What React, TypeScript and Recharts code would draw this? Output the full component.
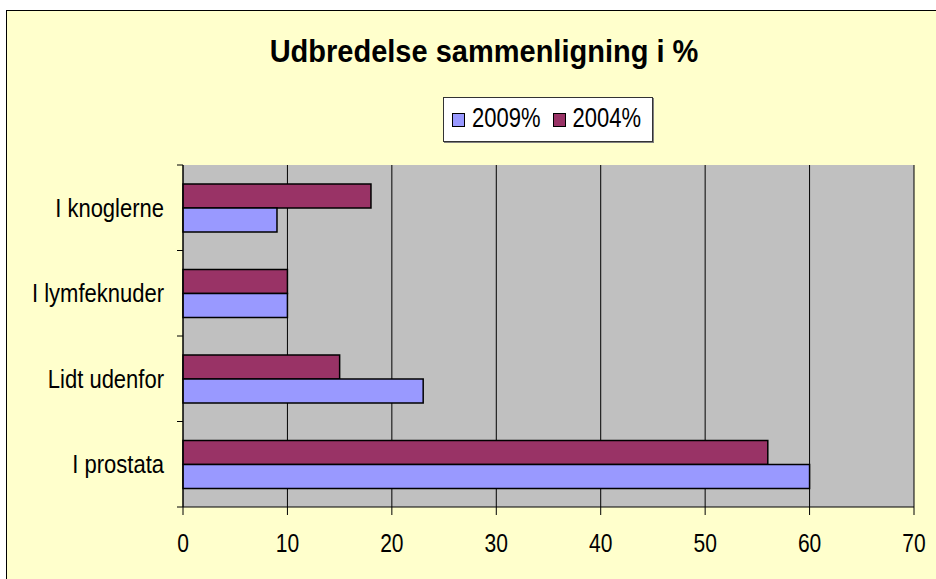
import React from "react";
import {
  Bar,
  BarChart,
  CartesianGrid,
  XAxis,
  YAxis,
} from "recharts";

// categories, top to bottom as in the picture
const categories = ["I knoglerne", "I lymfeknuder", "Lidt udenfor", "I prostata"];
const values2009 = [9, 10, 23, 60];
const values2004 = [18, 10, 15, 56];
const xTicks = [0, 10, 20, 30, 40, 50, 60, 70];

const data = categories.map((name, i) => ({
  name,
  v2009: values2009[i],
  v2004: values2004[i],
}));

const FONT = '"Liberation Sans", Arial, sans-serif';
const BLUE = "#9999FF";
const MAROON = "#993366";
const Y_TICK = 6;
const Y_MARGIN = 13;

// category label plus a tick mark at the band edges (Excel style)
const CategoryTick = (props: any) => {
  const { x, y, payload, index, visibleTicksCount } = props;
  const half = payload.offset || 0;
  const axisX = x + Y_TICK + Y_MARGIN;
  const last = index === visibleTicksCount - 1;
  return (
    <g>
      <line x1={axisX - Y_TICK} x2={axisX} y1={y - half} y2={y - half} stroke="#000" />
      {last && (
        <line x1={axisX - Y_TICK} x2={axisX} y1={y + half} y2={y + half} stroke="#000" />
      )}
      <text
        transform={`translate(${x},${y}) scale(1,1.16)`}
        dy="0.355em"
        textAnchor="end"
        fontSize={22}
        fontFamily={FONT}
        fill="#000"
      >
        {payload.value}
      </text>
    </g>
  );
};

// x tick labels are drawn a bit taller than wide in the original
const ValueTick = (props: any) => {
  const { x, y, payload } = props;
  return (
    <text
      transform={`translate(${x},${y}) scale(1,1.25)`}
      dy="0.71em"
      textAnchor="middle"
      fontSize={21}
      fontFamily={FONT}
      fill="#000"
    >
      {payload.value}
    </text>
  );
};

const legendText = { marginLeft: 7, marginTop: -3, display: "inline-block", transform: "scaleY(1.22)" };

const LegendBox = () => (
  <div
    style={{
      position: "absolute",
      left: 436,
      top: 86,
      width: 210,
      height: 45,
      boxSizing: "border-box",
      background: "#fff",
      border: "1px solid #333",
      boxShadow: "1px 1px 0 #808080",
      display: "flex",
      alignItems: "center",
      paddingLeft: 8,
      fontFamily: FONT,
      fontSize: 22,
      lineHeight: 1,
      color: "#000",
    }}
  >
    <span style={{ width: 13, height: 14, boxSizing: "border-box", border: "1px solid #000", background: BLUE }} />
    <span style={legendText}>2009%</span>
    <span style={{ marginLeft: 12, width: 13, height: 14, boxSizing: "border-box", border: "1px solid #000", background: MAROON }} />
    <span style={legendText}>2004%</span>
  </div>
);

export default function App() {
  return (
    <div
      style={{
        position: "absolute",
        left: 6,
        top: 10,
        width: 935,
        height: 575,
        border: "1px solid #000",
        background: "#FFFFCC",
        fontFamily: FONT,
      }}
    >
      <div
        style={{
          position: "absolute",
          left: 477,
          top: 26,
          transform: "translateX(-50%) scaleY(1.06)",
          whiteSpace: "nowrap",
          fontSize: 29,
          fontWeight: "bold",
          lineHeight: 1,
          color: "#000",
        }}
      >
        Udbredelse sammenligning i %
      </div>
      <LegendBox />
      <div style={{ position: "absolute", left: 0, top: 0 }}>
        <BarChart
          width={928}
          height={568}
          data={data}
          layout="vertical"
          margin={{ top: 154, right: 21, left: 0, bottom: 22 }}
          barGap={0}
        >
          <CartesianGrid horizontal={false} stroke="#000" fill="#C0C0C0" fillOpacity={1} />
          <XAxis
            type="number"
            domain={[0, 70]}
            ticks={xTicks}
            interval={0}
            height={50}
            tickSize={8}
            tickMargin={18}
            stroke="#000"
            tick={<ValueTick />}
          />
          <XAxis
            xAxisId="top"
            orientation="top"
            type="number"
            domain={[0, 70]}
            height={0}
            tick={false}
            tickLine={false}
            stroke="#808080"
            strokeWidth={2}
          />
          <YAxis
            type="category"
            dataKey="name"
            width={176}
            tickLine={false}
            tickSize={Y_TICK}
            tickMargin={Y_MARGIN}
            stroke="#000"
            interval={0}
            tick={<CategoryTick />}
          />
          <YAxis
            yAxisId="right"
            orientation="right"
            type="category"
            dataKey="name"
            width={0}
            tick={false}
            tickLine={false}
            stroke="#808080"
            strokeWidth={2}
          />
          <Bar dataKey="v2004" name="2004%" fill={MAROON} stroke="#000" strokeWidth={1.5} barSize={24} isAnimationActive={false} />
          <Bar dataKey="v2009" name="2009%" fill={BLUE} stroke="#000" strokeWidth={1.5} barSize={24} isAnimationActive={false} />
        </BarChart>
      </div>
    </div>
  );
}
